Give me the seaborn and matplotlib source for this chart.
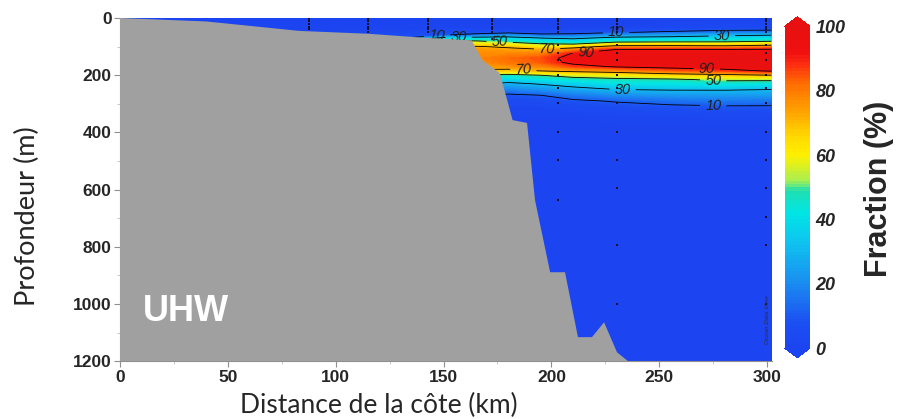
import numpy as np
import pandas as pd
import matplotlib
matplotlib.use('Agg')
import matplotlib.pyplot as plt
import seaborn as sns
from matplotlib.colors import LinearSegmentedColormap
from matplotlib.ticker import MultipleLocator

# grille de la fraction UHW (%) : distances (km) et profondeurs (m)
dist_km = [0, 130, 150, 165, 180, 195, 210, 230, 255, 280, 302]
depth_m = [0, 35, 50, 60, 70, 80, 90, 100, 110, 125, 140, 155,
           170, 185, 200, 215, 230, 250, 270, 290, 310, 340, 400, 1200]

# un profil vertical par distance
prof_000 = [0] * 24
prof_130 = [0, 0, 2, 4, 8, 12, 15, 18, 20, 20, 20, 20, 20, 18, 15, 12, 10, 8, 5, 3, 1, 0, 0, 0]
prof_150 = [0, 1, 6, 10, 35, 50, 58, 65, 68, 70, 70, 70, 66, 60, 48, 38, 28, 18, 9, 5, 2, 1, 0, 0]
prof_165 = [0, 1, 6, 14, 37, 50, 61, 71, 75, 77, 78, 77, 74, 68, 52, 42, 32, 22, 12, 6, 2, 1, 0, 0]
prof_180 = [0, 1, 7, 21, 36, 45, 56, 68, 73, 78, 82, 81, 76, 66, 46, 37, 27, 18, 8, 4, 2, 1, 0, 0]
prof_195 = [0, 1, 6, 13, 30, 40, 50, 60, 71, 79, 85, 84, 78, 70, 50, 41, 31, 21, 10, 6, 2, 1, 0, 0]
prof_210 = [0, 1, 7, 13, 27, 38, 48, 63, 78, 91, 94, 93, 86, 73, 56, 44, 36, 25, 16, 8, 4, 1, 0, 0]
prof_230 = [0, 1, 9, 21, 34, 44, 58, 76, 90, 95, 96, 94, 91, 76, 59, 47, 40, 30, 20, 11, 6, 2, 0, 0]
prof_255 = [0, 2, 12, 24, 35, 45, 59, 76, 90, 96, 99, 98, 94, 82, 64, 48, 41, 31, 22, 14, 8, 2, 0, 0]
prof_280 = [0, 3, 16, 28, 37, 46, 58, 75, 90, 97, 100, 100, 96, 86, 67, 53, 43, 31, 23, 16, 9, 3, 0, 0]
prof_302 = [0, 3, 17, 30, 39, 48, 62, 78, 91, 97, 100, 100, 97, 91, 70, 53, 42, 30, 23, 15, 9, 3, 0, 0]

# bathymetrie (km, m)
bathy_km = [0, 40, 83, 115, 139, 163, 168, 176, 179.5, 182, 188.7, 192.4,
            199.4, 206.3, 212.3, 218.8, 224.4, 230.4, 235.5, 0]
bathy_m = [0, 12, 45, 55, 68, 78, 147, 192, 287, 357, 367, 637,
           889, 889, 1116, 1116, 1064, 1169, 1200, 1200]

# stations et profondeurs d'echantillonnage
st_km = [87.6, 115, 142.8, 172.5, 203, 230.4, 299.5]
st_depths = [
    [2, 10, 20, 30, 40],
    [2, 10, 20, 30, 40, 50],
    [2, 10, 20, 30, 40, 50],
    [2, 10, 20, 30, 40, 50, 75],
    [2, 10, 20, 30, 40, 50, 94, 122, 147, 199, 245, 297, 399, 497, 637],
    [2, 10, 20, 30, 40, 50, 94, 122, 147, 199, 245, 297, 399, 497, 595, 794, 1000],
    [2, 10, 20, 30, 40, 50, 94, 122, 147, 199, 245, 297, 399, 497, 595, 696, 794, 1000],
]

contour_levels = [10, 30, 50, 70, 90]
label_pos = [(176, 88), (198, 110), (216, 128), (187, 182), (230, 56), (279, 66),
             (272, 178), (275, 220), (233, 250), (275, 305), (147, 62), (157, 70)]
cbar_ticks = [0, 20, 40, 60, 80, 100]

frac = np.array([prof_000, prof_130, prof_150, prof_165, prof_180, prof_195,
                 prof_210, prof_230, prof_255, prof_280, prof_302]).T
X, Y = np.meshgrid(dist_km, depth_m)

stations = pd.DataFrame([(k, d) for k, ds in zip(st_km, st_depths) for d in ds],
                        columns=['km', 'depth'])

odv = LinearSegmentedColormap.from_list('odv', [
    (0.00, '#1c44f0'), (0.08, '#1c50f2'), (0.20, '#1a8cf0'), (0.32, '#10c0f0'),
    (0.42, '#00e6e6'), (0.49, '#20dfb0'), (0.52, '#a8f050'), (0.60, '#fff000'),
    (0.66, '#ffd800'), (0.74, '#ffa000'), (0.82, '#ff7000'), (0.88, '#ff3010'),
    (0.92, '#f01010'), (1.00, '#e81010')])
odv.set_under('#1c44f0')
odv.set_over('#e81010')

sns.set_style('ticks')
plt.rcParams['font.family'] = ['Liberation Sans', 'DejaVu Sans']

fig = plt.figure(figsize=(9.02, 4.19), dpi=100)
ax = fig.add_axes([0.133, 0.138, 0.723, 0.819])
cax = fig.add_axes([0.870, 0.146, 0.028, 0.814])

cf = ax.contourf(X, Y, frac, levels=np.linspace(0, 100, 101), cmap=odv,
                 extend='both', zorder=1)
cs = ax.contour(X, Y, frac, levels=contour_levels, colors='k', linewidths=0.6, zorder=2)
labels = ax.clabel(cs, fmt='%d', fontsize=10.5, inline=True, manual=label_pos)
for t in labels:
    t.set_fontstyle('italic')
    t.set_color('#202020')
    t.set_zorder(2.5)

ax.fill(bathy_km, bathy_m, color='#a0a0a0', lw=0, zorder=3)

sns.scatterplot(data=stations, x='km', y='depth', color='#101030', s=4,
                marker='s', linewidth=0, ax=ax, zorder=4, legend=False)

ax.text(10.5, 1060, 'UHW', color='white', fontsize=26, fontweight='bold',
        ha='left', va='baseline', zorder=5)
ax.text(0.996, 0.05, 'Ocean Data View', transform=ax.transAxes, rotation=90,
        fontsize=4.5, fontstyle='italic', color='#303030', ha='right', va='bottom', zorder=5)

ax.set_xlim(0, 302.3)
ax.set_ylim(1200, 0)
ax.set_xticks([0, 50, 100, 150, 200, 250, 300])
ax.set_yticks([0, 200, 400, 600, 800, 1000, 1200])
ax.xaxis.set_minor_locator(MultipleLocator(25))
ax.yaxis.set_minor_locator(MultipleLocator(100))
ax.tick_params(which='major', length=4, color='#909090', labelsize=12.5, pad=2)
ax.tick_params(which='minor', length=2, color='#c0c0c0')
for lab in ax.get_xticklabels() + ax.get_yticklabels():
    lab.set_fontweight('bold')
for s in ['top', 'right']:
    ax.spines[s].set_visible(False)
for s in ['left', 'bottom']:
    ax.spines[s].set_color('#909090')
ax.set_xlabel('')
ax.set_ylabel('')

cb = fig.colorbar(cf, cax=cax, extend='both', ticks=cbar_ticks, extendfrac=0.03)
cb.outline.set_visible(False)
cb.ax.tick_params(length=0, labelsize=13, pad=4)
for lab in cb.ax.get_yticklabels():
    lab.set_fontweight('bold')
    lab.set_fontstyle('italic')

fig.text(0.030, 0.484, 'Profondeur (m)', rotation=90, ha='center', va='center',
         fontsize=19.5, family=['Lato', 'DejaVu Sans'])
fig.text(0.4197, 0.033, 'Distance de la côte (km)', ha='center', va='center',
         fontsize=19, family=['Lato', 'DejaVu Sans'])
fig.text(0.975, 0.55, 'Fraction (%)', rotation=90, ha='center', va='center',
         fontsize=22, fontweight='bold')

fig.savefig('out.png', dpi=100)
